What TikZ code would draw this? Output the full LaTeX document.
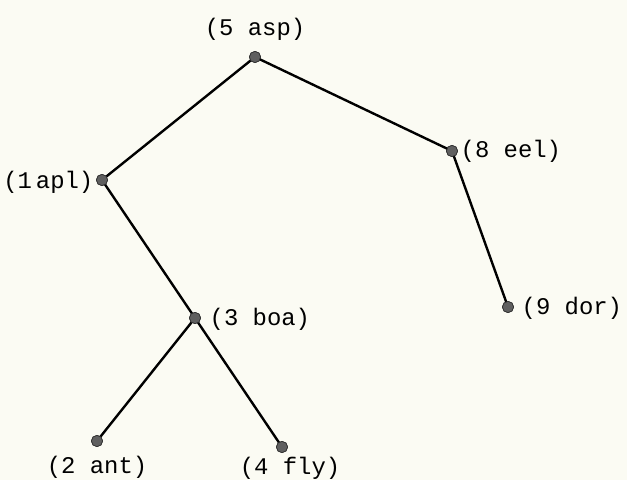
\documentclass[tikz,border=0pt]{standalone}
\usepackage{fontspec}
\setmonofont{Liberation Mono}
\definecolor{paper}{RGB}{251,251,243}
\definecolor{dotgray}{RGB}{95,95,95}
\tikzset{
  dot/.style={circle, fill=dotgray, draw=black!80, line width=0.5pt, inner sep=0pt, minimum size=0.28cm},
  tag/.style={font=\ttfamily\fontsize{17}{20}\selectfont, inner sep=1pt},
  branch/.style={line width=1.7pt, line cap=round}
}
\begin{document}
\begin{tikzpicture}[x=0.025cm,y=-0.025cm]
  \fill[paper] (0,0) rectangle (627,480);
  % the dots
  \node[dot] (asp) at (255,57) {};
  \node[dot] (apl) at (102,180) {};
  \node[dot] (eel) at (452,151) {};
  \node[dot] (boa) at (195,318) {};
  \node[dot] (dor) at (508,307) {};
  \node[dot] (ant) at (97,441) {};
  \node[dot] (fly) at (282,447) {};
  % the branches
  \draw[branch] (asp.center) -- (apl.center);
  \draw[branch] (asp.center) -- (eel.center);
  \draw[branch] (apl.center) -- (boa.center);
  \draw[branch] (boa.center) -- (fly.center);
  \draw[branch] (boa.center) -- (ant.center);
  \draw[branch] (eel.center) -- (dor.center);
  % the dots again, over the branches
  \foreach \n in {asp,apl,eel,boa,dor,ant,fly}
    \filldraw[fill=dotgray, draw=black!80, line width=0.5pt] (\n.center) circle (0.14cm);
  % the keys
  \node[tag] (asplabel) at (255,29) {(5 asp)};
  \node[tag, anchor=east] (apllabel) at (95,182) {(1\,apl)};
  \node[tag, anchor=west] (eellabel) at (459,151) {(8 eel)};
  \node[tag, anchor=west] (boalabel) at (208,319) {(3 boa)};
  \node[tag, anchor=west] (dorlabel) at (520,308) {(9 dor)};
  \node[tag] (antlabel) at (97,467) {(2 ant)};
  \node[tag] (flylabel) at (290,468) {(4 fly)};
\end{tikzpicture}
\end{document}
